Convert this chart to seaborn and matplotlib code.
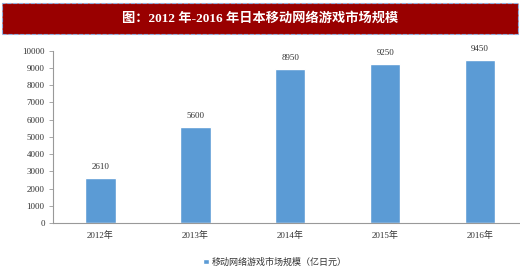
import matplotlib
matplotlib.use("Agg")
import matplotlib.pyplot as plt
import seaborn as sns
import pandas as pd
from matplotlib.patches import Rectangle

years = ["2012年", "2013年", "2014年", "2015年", "2016年"]
values = [2610, 5600, 8950, 9250, 9450]
series_name = "移动网络游戏市场规模（亿日元）"
title = "图：2012 年-2016 年日本移动网络游戏市场规模"
yticks = [0, 1000, 2000, 3000, 4000, 5000, 6000, 7000, 8000, 9000, 10000]

sns.set_style("white")
plt.rcParams['font.family'] = ['Liberation Serif', 'Noto Sans CJK SC', 'DejaVu Sans']

df = pd.DataFrame({"year": years, "value": values, "series": series_name})

fig = plt.figure(figsize=(5.2, 2.79), dpi=100)
fig.patch.set_facecolor("white")

# title banner
fig.patches.append(Rectangle((0.003, 1 - 34/279), 0.994, 31/279, transform=fig.transFigure,
                             facecolor="#990000", edgecolor="#8fb0e0", linestyle="--", linewidth=0.8))
fig.text(0.5, 1 - 18.5/279, title, color="white", fontsize=9.5, fontweight="bold",
         ha="center", va="center", family=['Liberation Serif', 'Noto Sans CJK SC'])

ax = fig.add_axes([53/520, 1 - 223/279, 474.5/520, (223 - 50.7)/279])
sns.barplot(data=df, x="year", y="value", hue="series", palette=["#5b9bd5"],
            saturation=1, width=0.32, ax=ax, legend=True)
ax.set_ylim(0, 10000)
ax.set_xlim(-0.5, 4.5)
ax.set_yticks(yticks)
ax.set_yticklabels([str(t) for t in yticks], fontsize=6.5, color="#333333")
ax.tick_params(axis="x", labelsize=6.5, colors="#333333", length=0, pad=6)
ax.tick_params(axis="y", length=3, width=0.6, color="#999999", pad=3, left=True)
for lab in ax.get_xticklabels():
    lab.set_color("#333333")
ax.set_xlabel("")
ax.set_ylabel("")
for s in ["top", "right"]:
    ax.spines[s].set_visible(False)
for s in ["left", "bottom"]:
    ax.spines[s].set_color("#999999")
    ax.spines[s].set_linewidth(0.8)

for c in ax.containers:
    ax.bar_label(c, labels=[str(v) for v in values], padding=5, fontsize=6.5, color="#333333")

leg = ax.legend(loc="center", bbox_to_anchor=(275/520, 1 - 262/279), bbox_transform=fig.transFigure,
                frameon=False, fontsize=6.5, handlelength=0.6, handleheight=0.6, handletextpad=0.3)
for t in leg.get_texts():
    t.set_color("#333333")

fig.savefig("out.png", dpi=100)
